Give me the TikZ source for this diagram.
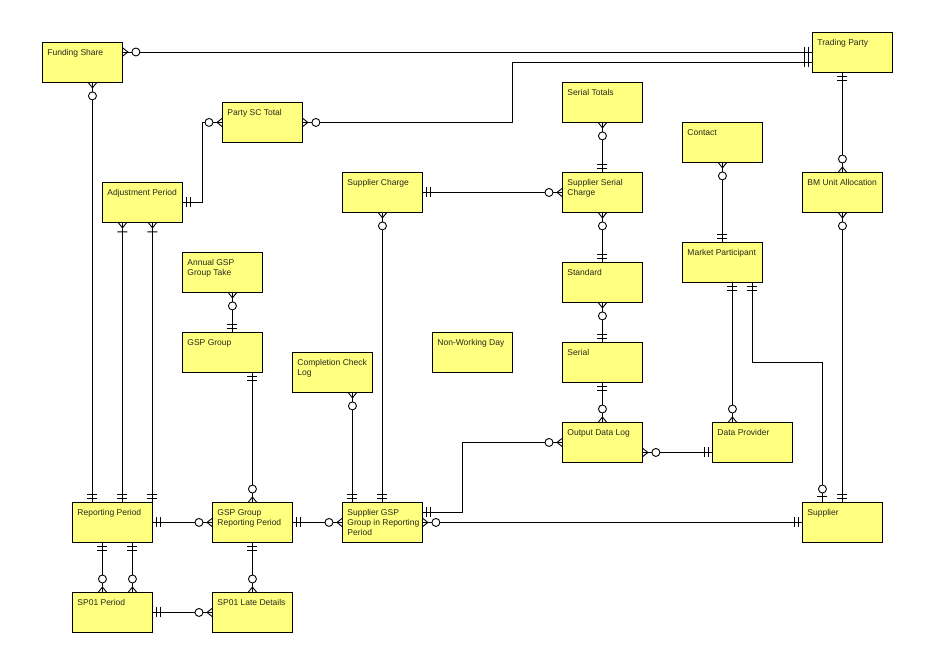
\documentclass[tikz,border=0pt]{standalone}
\usepackage{fontspec}
\usepackage{xcolor}
\usetikzlibrary{decorations.markings}
\newfontfamily\erdfont{Liberation Sans}
\definecolor{entfill}{RGB}{255,255,128}
\definecolor{enttext}{RGB}{40,40,30}
\newcommand{\ent}[1]{\parbox[c][28pt][t]{78pt}{\raggedright\leftskip=4pt\strut#1}}

\tikzset{
  entity/.style={draw, fill=entfill, line width=0.9pt, minimum width=80pt, minimum height=40pt,
    inner sep=0pt, anchor=north west, text=enttext, font=\erdfont\fontsize{8.5}{10}\selectfont},
  rel/.style={line width=0.9pt},
  % crow's foot + circle (zero or many)
  zmany at start/.style={postaction={decorate,decoration={markings,mark=at position 0 with {
    \draw[rel] (0,4)--(5,0)--(0,-4); \draw[rel,fill=white] (13,0) circle (4pt);}}}},
  zmany at end/.style={postaction={decorate,decoration={markings,mark=at position 1 with {
    \draw[rel] (0,4)--(-5,0)--(0,-4); \draw[rel,fill=white] (-13,0) circle (4pt);}}}},
  % two bars (exactly one)
  one at start/.style={postaction={decorate,decoration={markings,mark=at position 0 with {
    \draw[rel] (4,-5)--(4,5) (8,-5)--(8,5);}}}},
  one at end/.style={postaction={decorate,decoration={markings,mark=at position 1 with {
    \draw[rel] (-4,-5)--(-4,5) (-8,-5)--(-8,5);}}}},
  % crow's foot + bar (one or many)
  omany at start/.style={postaction={decorate,decoration={markings,mark=at position 0 with {
    \draw[rel] (0,4)--(5,0)--(0,-4) (9,-5)--(9,5);}}}},
  % circle + bar (zero or one)
  zone at end/.style={postaction={decorate,decoration={markings,mark=at position 1 with {
    \draw[rel] (-6,-5)--(-6,5); \draw[rel,fill=white] (-13,0) circle (4pt);}}}},
}

\begin{document}
\begin{tikzpicture}[x=1pt,y=-1pt]
\fill[white] (0,0) rectangle (945,666);
\useasboundingbox (0,0) rectangle (945,666);

% entities
\node[entity] (fs) at (42,42) {\ent{Funding Share}};
\node[entity] (tp) at (812,32) {\ent{Trading Party}};
\node[entity] (psc) at (222,102) {\ent{Party SC Total}};
\node[entity] (st) at (562,82) {\ent{Serial Totals}};
\node[entity] (con) at (682,122) {\ent{Contact}};
\node[entity] (ap) at (102,182) {\ent{Adjustment Period}};
\node[entity] (sc) at (342,172) {\ent{Supplier Charge}};
\node[entity] (ssc) at (562,172) {\ent{Supplier Serial\\Charge}};
\node[entity] (bm) at (802,172) {\ent{BM Unit Allocation}};
\node[entity] (aggt) at (182,252) {\ent{Annual GSP\\Group Take}};
\node[entity] (std) at (562,262) {\ent{Standard}};
\node[entity] (mp) at (682,242) {\ent{Market Participant}};
\node[entity] (gspg) at (182,332) {\ent{GSP Group}};
\node[entity] (nwd) at (432,332) {\ent{Non-Working Day}};
\node[entity] (ser) at (562,342) {\ent{Serial}};
\node[entity] (ccl) at (292,352) {\ent{Completion Check\\Log}};
\node[entity] (odl) at (562,422) {\ent{Output Data Log}};
\node[entity] (dp) at (712,422) {\ent{Data Provider}};
\node[entity] (rp) at (72,502) {\ent{Reporting Period}};
\node[entity] (gspgrp) at (212,502) {\ent{GSP Group\\Reporting Period}};
\node[entity] (sgsp) at (342,502) {\ent{Supplier GSP\\Group in Reporting\\Period}};
\node[entity] (sup) at (802,502) {\ent{Supplier}};
\node[entity] (sp01) at (72,592) {\ent{SP01 Period}};
\node[entity] (sp01ld) at (212,592) {\ent{SP01 Late Details}};

% relationships
\draw[rel, zmany at start, one at end] ([yshift=-10pt]fs.north east) -- ([yshift=-10pt]fs.north east -| tp.west);
\draw[rel, zmany at start, one at end] (psc.east) -- ++(210,0) |- ([yshift=-10pt]tp.west);
\draw[rel, zmany at start, one at end] (psc.west) -- ++(-20,0) |- (ap.east);
\draw[rel, zmany at start, one at end] ([xshift=10pt]fs.south) -- ([xshift=10pt]fs.south |- rp.north);
\draw[rel, omany at start, one at end] ([xshift=-20pt]ap.south) -- ([xshift=-20pt]ap.south |- rp.north);
\draw[rel, omany at start, one at end] ([xshift=10pt]ap.south) -- ([xshift=10pt]ap.south |- rp.north);
\draw[rel, one at start, zmany at end] (bm.north |- tp.south) -- (bm.north);
\draw[rel, zmany at start, one at end] (bm.south) -- (sup.north);
\draw[rel, zmany at start, one at end] (st.south) -- (ssc.north);
\draw[rel, one at start, zmany at end] (sc.east) -- (ssc.west);
\draw[rel, zmany at start, one at end] (ssc.south) -- (std.north);
\draw[rel, zmany at start, one at end] (std.south) -- (ser.north);
\draw[rel, one at start, zmany at end] (ser.south) -- (odl.north);
\draw[rel, zmany at start, one at end] (con.south) -- (mp.north);
\draw[rel, one at start, zmany at end] ([xshift=-20pt]dp.north |- mp.south) -- ([xshift=-20pt]dp.north);
\draw[rel, one at start, zone at end] ([xshift=30pt]mp.south) -- ++(0,80) -| ([xshift=-20pt]sup.north);
\draw[rel, zmany at start, one at end] ([yshift=-10pt]odl.east) -- ([yshift=-10pt]odl.east -| dp.west);
\draw[rel, one at start, zmany at end] ([yshift=10pt]sgsp.east) -- ++(40,0) |- (odl.west);
\draw[rel, zmany at start, one at end] (sgsp.east) -- (sup.west);
\draw[rel, zmany at start, one at end] (sc.south) -- (sgsp.north);
\draw[rel, zmany at start, one at end] ([xshift=-30pt]sgsp.north |- ccl.south) -- ([xshift=-30pt]sgsp.north);
\draw[rel, zmany at start, one at end] ([xshift=10pt]aggt.south) -- ([xshift=10pt]gspg.north);
\draw[rel, one at start, zmany at end] (gspgrp.north |- gspg.south) -- (gspgrp.north);
\draw[rel, one at start, zmany at end] (rp.east) -- (gspgrp.west);
\draw[rel, one at start, zmany at end] (gspgrp.east) -- (sgsp.west);
\draw[rel, one at start, zmany at end] ([xshift=-10pt]rp.south) -- ([xshift=-10pt]rp.south |- sp01.north);
\draw[rel, one at start, zmany at end] ([xshift=20pt]rp.south) -- ([xshift=20pt]rp.south |- sp01.north);
\draw[rel, one at start, zmany at end] (gspgrp.south) -- (sp01ld.north);
\draw[rel, one at start, zmany at end] (sp01.east) -- (sp01ld.west);
\end{tikzpicture}
\end{document}
